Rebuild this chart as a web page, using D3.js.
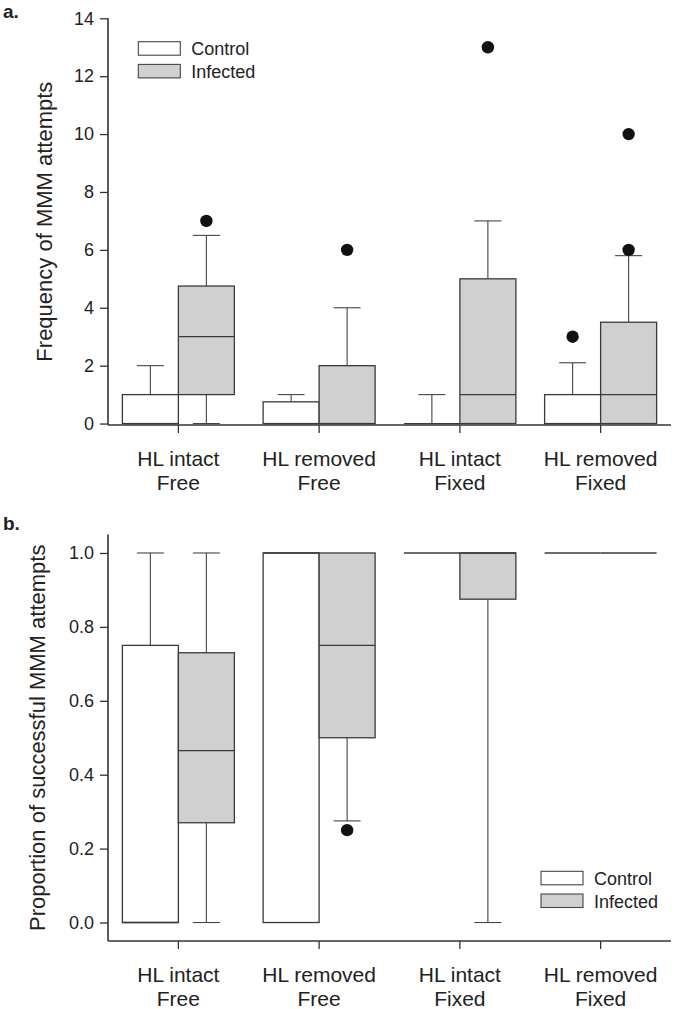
<!DOCTYPE html>
<html>
<head>
<meta charset="utf-8">
<script src="https://cdn.jsdelivr.net/npm/d3@7/dist/d3.min.js"></script>
<style>
  html, body { margin: 0; padding: 0; background: #fff; }
  svg { display: block; font-family: Arial, "Liberation Sans", Helvetica, sans-serif; }
</style>
</head>
<body>
<svg id="chart" width="675" height="1009"></svg>
<script>
// ---------- data ----------
const catLine1 = ["HL intact", "HL removed", "HL intact", "HL removed"];
const catLine2 = ["Free", "Free", "Fixed", "Fixed"];
const groups = ["Control", "Infected"];

// Panel a: frequency of MMM attempts
const aTicks = [0, 2, 4, 6, 8, 10, 12, 14];
const aCtrlMin = [0, 0, 0, 0];
const aCtrlQ1  = [0, 0, 0, 0];
const aCtrlMed = [0, 0, 0, 0];
const aCtrlQ3  = [1, 0.75, 0, 1];
const aCtrlMax = [2, 1, 1, 2.1];
const aCtrlOut = [[], [], [], [3]];
const aInfMin  = [0, 0, 0, 0];
const aInfQ1   = [1, 0, 0, 0];
const aInfMed  = [3, 0, 1, 1];
const aInfQ3   = [4.75, 2, 5, 3.5];
const aInfMax  = [6.5, 4, 7, 5.8];
const aInfOut  = [[7], [6], [13], [6, 10]];

// Panel b: proportion of successful MMM attempts
const bTicks = [0, 0.2, 0.4, 0.6, 0.8, 1.0];
const bCtrlMin = [0, 0, 1, 1];
const bCtrlQ1  = [0, 0, 1, 1];
const bCtrlMed = [0, 1, 1, 1];
const bCtrlQ3  = [0.75, 1, 1, 1];
const bCtrlMax = [1, 1, 1, 1];
const bCtrlOut = [[], [], [], []];
const bInfMin  = [0, 0.275, 0, 1];
const bInfQ1   = [0.27, 0.5, 0.875, 1];
const bInfMed  = [0.465, 0.75, 1, 1];
const bInfQ3   = [0.73, 1, 1, 1];
const bInfMax  = [1, 1, 1, 1];
const bInfOut  = [[], [0.25], [], []];

// ---------- drawing ----------
const svg = d3.select("#chart");
const cats = catLine1.map((d, i) => i);
const fills = { Control: "#ffffff", Infected: "#d0d0d0" };

function buildStats(min, q1, med, q3, max, out) {
  return cats.map(i => ({ i, min: min[i], q1: q1[i], med: med[i], q3: q3[i], max: max[i], out: out[i] }));
}

function panel(cfg) {
  const x = d3.scaleBand().domain(cats).range([cfg.left, cfg.right]).padding(0);
  const bw = x.bandwidth();
  const xs = d3.scaleBand().domain(groups).range([bw / 2 - 56, bw / 2 + 56]).padding(0);
  const y = d3.scaleLinear().domain(cfg.domain).range([cfg.bottom, cfg.top]);
  const g = svg.append("g");

  // y axis
  const yAxis = d3.axisLeft(y).tickValues(cfg.ticks).tickSize(8).tickSizeOuter(0).tickPadding(6)
    .tickFormat(cfg.fmt);
  const ya = g.append("g").attr("transform", `translate(${cfg.left},0)`).call(yAxis);
  ya.select(".domain").remove();
  ya.selectAll(".tick line").attr("stroke", "#333").attr("stroke-width", 1.3);
  ya.selectAll(".tick text").attr("font-size", 18).attr("fill", "#222")
    .attr("font-family", "Arial, 'Liberation Sans', sans-serif");

  // x axis
  const xAxis = d3.axisBottom(x).tickSize(8).tickSizeOuter(0).tickFormat("");
  const xa = g.append("g").attr("transform", `translate(0,${cfg.bottom})`).call(xAxis);
  xa.select(".domain").remove();
  xa.selectAll(".tick line").attr("stroke", "#333").attr("stroke-width", 1.3);

  // axis lines
  g.append("line").attr("x1", cfg.left).attr("x2", cfg.left).attr("y1", y(cfg.axisTop)).attr("y2", cfg.bottom)
    .attr("stroke", "#333").attr("stroke-width", 1.6);
  g.append("line").attr("x1", cfg.left).attr("x2", cfg.right).attr("y1", cfg.bottom).attr("y2", cfg.bottom)
    .attr("stroke", "#333").attr("stroke-width", 1.6);

  // category labels
  cats.forEach(i => {
    const cx = x(i) + bw / 2;
    const t = g.append("text").attr("x", cx).attr("text-anchor", "middle")
      .attr("font-size", 21).attr("fill", "#222");
    t.append("tspan").attr("x", cx).attr("y", cfg.bottom + 41).text(catLine1[i]);
    t.append("tspan").attr("x", cx).attr("y", cfg.bottom + 65).text(catLine2[i]);
  });

  // y title
  g.append("text")
    .attr("transform", `translate(${cfg.titleX},${(y(cfg.axisTop) + cfg.bottom) / 2}) rotate(-90)`)
    .attr("text-anchor", "middle").attr("font-size", 22).attr("fill", "#222").text(cfg.title);

  // panel letter
  g.append("text").attr("x", 3).attr("y", cfg.letterY).attr("font-size", 19).attr("font-weight", "bold")
    .attr("fill", "#222").text(cfg.letter);

  // boxes
  groups.forEach(grp => {
    const stats = cfg.series[grp];
    stats.forEach(s => {
      const x0 = x(s.i) + xs(grp);
      const w = xs.bandwidth();
      const cx = x0 + w / 2;
      const cap = 13.5;
      const wg = g.append("g");
      // upper whisker
      if (s.max > s.q3) {
        wg.append("line").attr("x1", cx).attr("x2", cx).attr("y1", y(s.q3)).attr("y2", y(s.max))
          .attr("stroke", "#444").attr("stroke-width", 1.1);
        wg.append("line").attr("x1", cx - cap).attr("x2", cx + cap).attr("y1", y(s.max)).attr("y2", y(s.max))
          .attr("stroke", "#444").attr("stroke-width", 1.1);
      }
      if (s.min < s.q1) {
        wg.append("line").attr("x1", cx).attr("x2", cx).attr("y1", y(s.q1)).attr("y2", y(s.min))
          .attr("stroke", "#444").attr("stroke-width", 1.1);
        wg.append("line").attr("x1", cx - cap).attr("x2", cx + cap).attr("y1", y(s.min)).attr("y2", y(s.min))
          .attr("stroke", "#444").attr("stroke-width", 1.1);
      }
      // box
      wg.append("rect").attr("x", x0).attr("y", y(s.q3)).attr("width", w)
        .attr("height", Math.max(0, y(s.q1) - y(s.q3)))
        .attr("fill", fills[grp]).attr("stroke", "#3a3a3a").attr("stroke-width", 1.3);
      // median
      wg.append("line").attr("x1", x0).attr("x2", x0 + w).attr("y1", y(s.med)).attr("y2", y(s.med))
        .attr("stroke", "#3a3a3a").attr("stroke-width", 1.3);
      // outliers
      s.out.forEach(o => {
        wg.append("circle").attr("cx", cx).attr("cy", y(o)).attr("r", 6.2).attr("fill", "#111");
      });
    });
  });

  // legend
  groups.forEach((grp, k) => {
    const ly = cfg.legendY + k * 22.7;
    g.append("rect").attr("x", cfg.legendX).attr("y", ly).attr("width", 42).attr("height", 13.5)
      .attr("fill", fills[grp]).attr("stroke", "#444").attr("stroke-width", 1.1);
    g.append("text").attr("x", cfg.legendX + 53).attr("y", ly + 13.5).attr("font-size", 18)
      .attr("fill", "#222").text(grp);
  });
}

panel({
  left: 108, right: 671, top: 18.3, bottom: 425, domain: [-0.05, 14], axisTop: 14,
  ticks: aTicks, fmt: d3.format("d"),
  title: "Frequency of MMM attempts", titleX: 52, letter: "a.", letterY: 18,
  legendX: 138.3, legendY: 41.7,
  series: {
    Control: buildStats(aCtrlMin, aCtrlQ1, aCtrlMed, aCtrlQ3, aCtrlMax, aCtrlOut),
    Infected: buildStats(aInfMin, aInfQ1, aInfMed, aInfQ3, aInfMax, aInfOut)
  }
});

panel({
  left: 108, right: 671, top: 534.5, bottom: 941, domain: [-0.05, 1.05], axisTop: 1.05,
  ticks: bTicks, fmt: d3.format(".1f"),
  title: "Proportion of successful MMM attempts", titleX: 45, letter: "b.", letterY: 530,
  legendX: 541, legendY: 871.3,
  series: {
    Control: buildStats(bCtrlMin, bCtrlQ1, bCtrlMed, bCtrlQ3, bCtrlMax, bCtrlOut),
    Infected: buildStats(bInfMin, bInfQ1, bInfMed, bInfQ3, bInfMax, bInfOut)
  }
});
</script>
</body>
</html>
